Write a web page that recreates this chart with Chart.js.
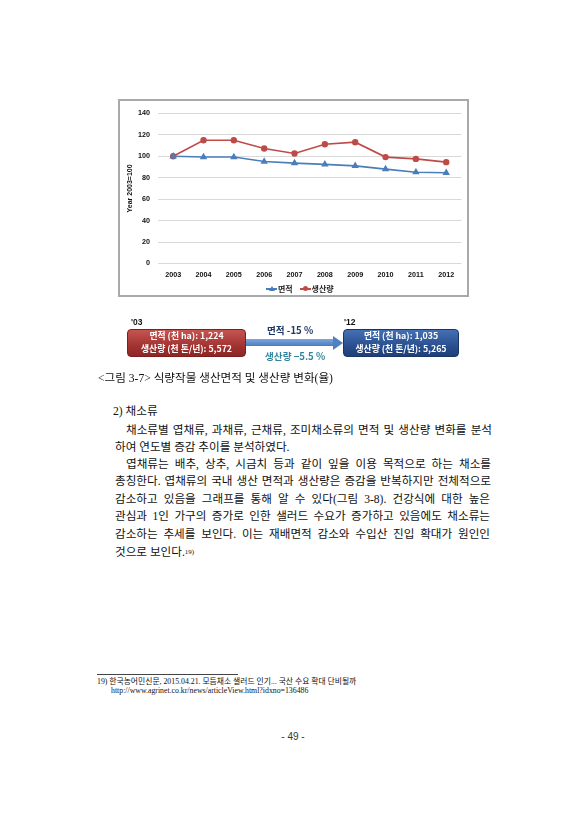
<!DOCTYPE html>
<html>
<head>
<meta charset="utf-8">
<script src="https://cdn.jsdelivr.net/npm/chart.js@4.4.0/dist/chart.umd.min.js"></script>
<style>
  html, body { margin: 0; padding: 0; background: #fff; }
  body { width: 588px; height: 840px; position: relative; overflow: hidden;
         font-family: "Liberation Serif", "Noto Sans CJK KR", serif; color: #111; }
  .abs { position: absolute; white-space: nowrap; }
  .frame { position: absolute; left: 118px; top: 99px; width: 351px; height: 198px;
           box-sizing: border-box; border: 2px solid #a9a9a9; }
  #chartBox { position: absolute; left: 120px; top: 101px; width: 347px; height: 183px; }
  .legend { position: absolute; top: 283px; left: 266px; height: 11px; line-height: 11px;
            font: bold 8px "Noto Sans CJK KR", sans-serif; color: #222; }
  .legend span.item { display: inline-block; margin-right: 5px; }
  .mk { display: inline-block; position: relative; width: 11px; height: 11px; vertical-align: top; margin-right: 1px; }
  .mk i { position: absolute; left: 0; top: 5px; width: 11px; height: 2px; }
  .box { position: absolute; top: 329px; height: 28px; border-radius: 4px; box-sizing: border-box; }
  .red { left: 127px; width: 119px; background: linear-gradient(#c65552, #a23431 60%, #8c2624);
         border: 1px solid #7a1f1d; }
  .blue { left: 343px; width: 116px; background: linear-gradient(#4470b3, #2a5090 60%, #1f3f78);
          border: 1px solid #1a3566; }
  .bl { position: absolute; color: #fff; text-align: center; white-space: nowrap;
        font: bold 8.8px "Noto Sans CJK KR", sans-serif; line-height: 12.8px; height: 12.8px; }
  .yr { font: bold 8.5px "Liberation Sans", sans-serif; top: 317px; }
  .shaft { position: absolute; left: 246px; top: 339px; width: 88px; height: 7px;
           background: linear-gradient(#7ea8dc, #4a7cc0); }
  .head { position: absolute; left: 333px; top: 335.5px; width: 0; height: 0;
          border-top: 7px solid transparent; border-bottom: 7px solid transparent; border-left: 10px solid #4f80c3; }
  .ann { font: bold 9.6px "Noto Sans CJK KR", sans-serif; line-height: 12px; }
  .txt { position: absolute; font-size: 11.6px; line-height: 16px; height: 16px; white-space: nowrap; }
  .just { text-align: justify; text-align-last: justify; white-space: normal; overflow: hidden; }
  .fn { font-size: 7.8px; line-height: 10px; }
</style>
</head>
<body>

<div class="frame"></div>
<div id="chartBox"><canvas id="lineChart"></canvas></div>
<div class="legend">
  <span class="item"><span class="mk"><i style="background:#4a7ebb"></i><b style="position:absolute;left:2.5px;top:2.5px;width:0;height:0;border-left:3px solid transparent;border-right:3px solid transparent;border-bottom:5px solid #4a7ebb"></b></span>면적</span>
  <span class="item"><span class="mk"><i style="background:#be4b48"></i><b style="position:absolute;left:3px;top:3px;width:5px;height:5px;border-radius:50%;background:#be4b48"></b></span>생산량</span>
</div>

<div class="abs yr" style="left:131px">'03</div>
<div class="abs yr" style="left:344px">'12</div>
<div class="box red"></div>
<div class="bl" style="left:127px;width:119px;top:330.2px">면적 (천 ha): 1,224</div>
<div class="bl" style="left:127px;width:119px;top:343px">생산량 (천 톤/년): 5,572</div>
<div class="shaft"></div>
<div class="head"></div>
<div class="box blue"></div>
<div class="bl" style="left:343px;width:116px;top:330.2px">면적 (천 ha): 1,035</div>
<div class="bl" style="left:343px;width:116px;top:343px">생산량 (천 톤/년): 5,265</div>
<div class="abs ann" style="left:267px;top:324px;color:#1f3864">면적 -15 %</div>
<div class="abs ann" style="left:265px;top:350px;color:#31859c">생산량 −5.5 %</div>

<div class="txt" style="left:98px;top:371px">&lt;그림 3-7&gt; 식량작물 생산면적 및 생산량 변화(율)</div>

<div class="txt" style="left:113px;top:404px">2) 채소류</div>
<div class="txt just" style="left:126px;top:423px;width:366px">채소류별 엽채류, 과채류, 근채류, 조미채소류의 면적 및 생산량 변화를 분석</div>
<div class="txt" style="left:115px;top:440px">하여 연도별 증감 추이를 분석하였다.</div>
<div class="txt just" style="left:126px;top:457px;width:365px">엽채류는 배추, 상추, 시금치 등과 같이 잎을 이용 목적으로 하는 채소를</div>
<div class="txt just" style="left:115px;top:474px;width:376px">총칭한다. 엽채류의 국내 생산 면적과 생산량은 증감을 반복하지만 전체적으로</div>
<div class="txt just" style="left:115px;top:491.5px;width:375px">감소하고 있음을 그래프를 통해 알 수 있다(그림 3-8). 건강식에 대한 높은</div>
<div class="txt just" style="left:115px;top:509px;width:375px">관심과 1인 가구의 증가로 인한 샐러드 수요가 증가하고 있음에도 채소류는</div>
<div class="txt just" style="left:115px;top:526.5px;width:375px">감소하는 추세를 보인다. 이는 재배면적 감소와 수입산 진입 확대가 원인인</div>
<div class="txt" style="left:115px;top:544px">것으로 보인다.<span style="font-size:7px;vertical-align:2px">19)</span></div>

<div class="abs" style="left:97px;top:674px;width:141px;height:1px;background:#444"></div>
<div class="abs fn" style="left:97px;top:677px">19) 한국농어민신문, 2015.04.21. 모듬채소 샐러드 인기... 국산 수요 확대 단비될까</div>
<div class="abs fn" style="left:111px;top:686px">http://www.agrinet.co.kr/news/articleView.html?idxno=136486</div>

<div class="abs" style="left:273px;top:731px;width:40px;text-align:center;font:10px 'Liberation Sans',sans-serif;color:#333">- 49 -</div>

<script>
// index values, 2003 = 100
const years = ['2003', '2004', '2005', '2006', '2007', '2008', '2009', '2010', '2011', '2012'];
const areaIndex = [100, 99.3, 99.3, 95.1, 93.6, 92.4, 91.0, 88.0, 85.1, 84.6];
const productionIndex = [100, 114.9, 114.9, 107.2, 102.5, 111.1, 113.1, 99.2, 97.5, 94.5];
const yTicks = [0, 20, 40, 60, 80, 100, 120, 140];

const tickFont = { family: 'Liberation Sans', size: 7.2, weight: 'bold' };

new Chart(document.getElementById('lineChart'), {
    type: 'line',
    data: {
        labels: years,
        datasets: [
            {
                label: '면적',
                data: areaIndex,
                borderColor: '#4a7ebb',
                backgroundColor: '#4a7ebb',
                borderWidth: 1.6,
                pointStyle: 'triangle',
                pointRadius: 2.7,
                tension: 0
            },
            {
                label: '생산량',
                data: productionIndex,
                borderColor: '#be4b48',
                backgroundColor: '#be4b48',
                borderWidth: 1.6,
                pointStyle: 'circle',
                pointRadius: 2.4,
                tension: 0
            }
        ]
    },
    options: {
        responsive: true,
        maintainAspectRatio: false,
        animation: false,
        layout: { padding: { left: 0, right: 2, top: 0, bottom: 0 } },
        plugins: { legend: { display: false }, tooltip: { enabled: false } },
        scales: {
            x: {
                offset: true,
                grid: { display: false, drawTicks: false },
                border: { display: false },
                ticks: { font: tickFont, color: '#111', padding: 7, maxRotation: 0 },
                afterFit: (scale) => { scale.height = 20.5; }
            },
            y: {
                min: 0,
                max: 140,
                afterBuildTicks: (scale) => { scale.ticks = yTicks.map(v => ({ value: v })); },
                grid: { color: '#d9d9d9', lineWidth: 1, drawTicks: false },
                border: { display: false },
                ticks: { font: tickFont, color: '#111', padding: 8 },
                title: {
                    display: true,
                    text: 'Year 2003=100',
                    font: { family: 'Liberation Sans', size: 7, weight: 'bold' },
                    color: '#111',
                    padding: { top: 6, bottom: 0 }
                },
                afterFit: (scale) => { scale.width = 38; }
            }
        }
    }
});
</script>
</body>
</html>
